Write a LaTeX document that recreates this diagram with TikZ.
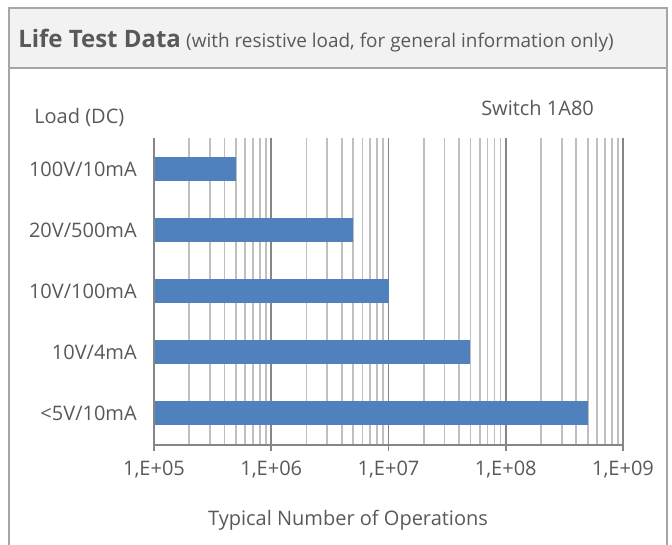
\documentclass[tikz,border=0pt]{standalone}
\usepackage{fontspec}
\setmainfont{Open Sans}
\usetikzlibrary{positioning}
\definecolor{barblue}{RGB}{79,129,189}
\definecolor{txtgray}{RGB}{89,89,89}
\definecolor{gridgray}{RGB}{191,191,191}
\definecolor{majgray}{RGB}{134,134,134}
\definecolor{titlefill}{RGB}{242,242,242}
\definecolor{framegray}{RGB}{166,166,166}

\begin{document}
\begin{tikzpicture}[x=0.75pt,y=-0.75pt]
            \tikzset{every node/.style={text=txtgray, inner sep=0pt, font=\fontsize{15}{18}\selectfont},
                    bar/.style={fill=barblue, draw=none},
                    minorgrid/.style={draw=gridgray, line width=1.3pt},
                    majorgrid/.style={draw=majgray, line width=1.4pt}}
            \useasboundingbox (0,0) rectangle (672,544);
            % frame and title band
            \fill[titlefill] (9,8) rectangle (667,68);
            \draw[framegray, line width=1.2pt] (9,560) -- (9,8) -- (667,8) -- (667,560);
            \draw[framegray, line width=1.2pt] (9,68) -- (667,68);
            \node[anchor=base west] (title) at (18,47)
                {{\fontsize{18}{21}\selectfont\bfseries Life Test Data} {\fontsize{14.2}{17}\selectfont(with resistive load, for general information only)}};
            % grid
            \foreach \d in {0,...,3}
                \foreach \m in {2,...,9}
                    \draw[minorgrid] ({154+117.25*(\d+ln(\m)/ln(10))},138) -- ({154+117.25*(\d+ln(\m)/ln(10))},445);
            \foreach \d in {0,...,4}
                \draw[majorgrid] ({154+117.25*\d},138) -- ({154+117.25*\d},451);
            \draw[majorgrid] (154,445) -- (623,445);
            % bars
            \foreach \y/\e/\lab [count=\i] in {169/5.699/100V\slash10mA, 230/6.699/20V\slash500mA,
                    291/7/10V\slash100mA, 352/7.699/10V\slash4mA, 413/8.699/{<5V\slash10mA}} {
                \fill[bar] (155,\y-12) rectangle ({154+117.25*(\e-5)},\y+12);
                \node[anchor=east] (load\i) at (137,\y) {\lab};
            }
            % axis labels
            \foreach \e [count=\i] in {05,06,07,08,09}
                \node (tick\i) at ({154+117.25*(\i-1)},470) {1,E+\e};
            \node[anchor=west] (loadhead) at (34,117) {Load (DC)};
            \node[anchor=west] (series) at (481,108) {Switch 1A80};
            \node (xlabel) at (348,520) {Typical Number of Operations};
\end{tikzpicture}
\end{document}
